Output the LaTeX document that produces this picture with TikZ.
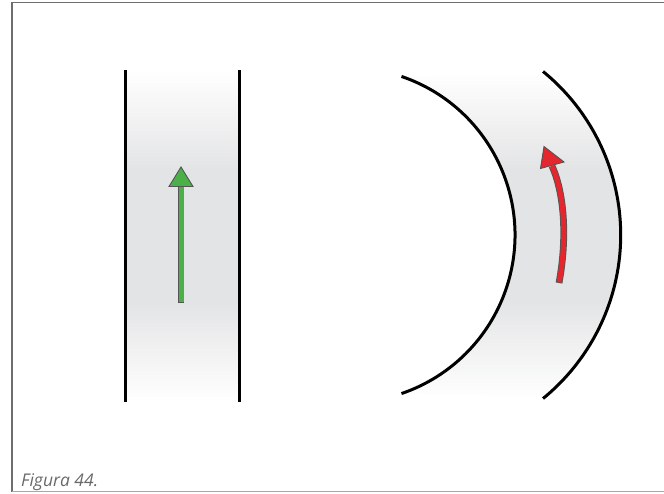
\documentclass[tikz,border=0pt]{standalone}
\usepackage{fontspec}
\newfontfamily\capfont{Open Sans}
\usetikzlibrary{calc}
\definecolor{roadgray}{RGB}{227,228,229}
\definecolor{framegray}{RGB}{110,110,110}
\definecolor{capgray}{RGB}{105,105,105}
\definecolor{arrowgreen}{RGB}{76,176,72}
\definecolor{arrowred}{RGB}{228,38,46}
\definecolor{outline}{RGB}{85,85,85}
\pgfdeclareverticalshading{roadfade}{100bp}{color(0bp)=(white); color(25bp)=(white); color(40bp)=(roadgray); color(60bp)=(roadgray); color(75bp)=(white); color(100bp)=(white)}
\tikzset{
  roadline/.style={line width=3pt, black},
  roadfill/.style={shading=roadfade, draw=none},
  shaftout/.style={line width=6.8pt, outline},
  headstyle/.style={line width=0.9pt, draw=outline, line join=miter},
}
\begin{document}
\begin{tikzpicture}[x=1pt, y=-1pt]
\useasboundingbox (0,0) rectangle (664,493);
% frame
\draw[framegray, line width=1.4pt] (664,2.5) -- (12,2.5) -- (12,491.5);
\draw[framegray!60, line width=1.2pt] (12,491.5) -- (664,491.5);
% left straight road
\shade[roadfill] (125,70) rectangle (239,402);
\draw[roadline] (125,70) -- (125,402);
\draw[roadline] (239,70) -- (239,402);
% green arrow
\coordinate (gtail) at (181,303);
\coordinate (gbase) at (181,185);
\draw[shaftout] (gtail) -- (gbase);
\draw[line width=5pt, arrowgreen, shorten <=0.9pt] (gtail) -- (gbase);
\filldraw[headstyle, fill=arrowgreen] (169,186.5) -- (193,186.5) -- (181,167) -- cycle;
% right curved road
\shade[roadfill] (347.5,235) ++(-71.2:167.5) arc[start angle=-71.2, end angle=71.2, radius=167.5]
   -- ($(409.7,235)+(50.8:211)$) arc[start angle=50.8, end angle=-50.8, radius=211] -- cycle;
\draw[roadline] (347.5,235) ++(-71.2:167.5) arc[start angle=-71.2, end angle=71.2, radius=167.5];
\draw[roadline] (409.7,235) ++(-50.8:211) arc[start angle=-50.8, end angle=50.8, radius=211];
% red arrow
\coordinate (rtail) at (559,283);
\coordinate (rbase) at (552,166);
\draw[shaftout] (rtail) .. controls (567,240) and (565,195) .. (rbase);
\draw[line width=5pt, arrowred, shorten <=0.9pt] (rtail) .. controls (567,240) and (565,195) .. (rbase);
\filldraw[headstyle, fill=arrowred] (540.5,168.5) -- (564,162) -- (544,146.5) -- cycle;
% caption
\node[anchor=base west, inner sep=0pt, text=capgray, font=\capfont\itshape\fontsize{17.5}{20}\selectfont] (cap) at (21,486.5) {Figura 44.};
\end{tikzpicture}
\end{document}
